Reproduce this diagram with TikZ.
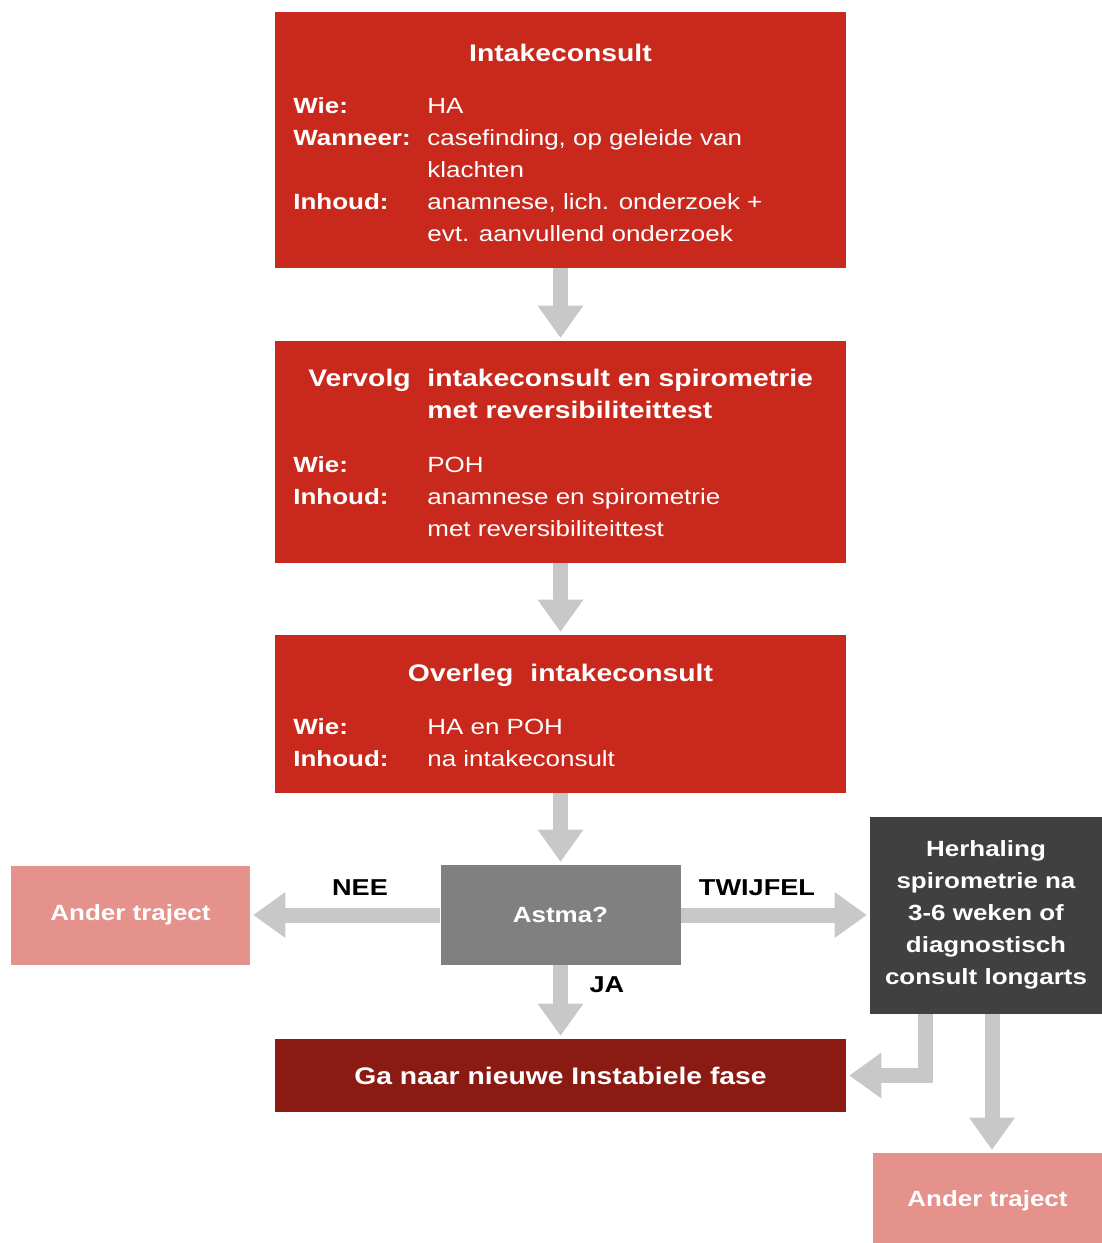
\documentclass[tikz,border=0pt]{standalone}
\usepackage{fontspec}
\setmainfont{Liberation Sans}[FakeStretch=1.18]
\usetikzlibrary{arrows.meta}
\definecolor{rood}{RGB}{201,41,29}
\definecolor{donkerrood}{RGB}{139,27,18}
\definecolor{roze}{RGB}{228,146,139}
\definecolor{grijs}{RGB}{128,128,128}
\definecolor{donkergrijs}{RGB}{64,64,64}
\definecolor{pijlgrijs}{RGB}{200,200,200}

\begin{document}
\begin{tikzpicture}[x=0.5pt, y=-0.5pt,
				    blok/.style={rectangle, draw=none, inner sep=0pt, text=white,
				    			 align=center, font=\bfseries\fontsize{11}{16}\selectfont},
				    fase/.style={blok, fill=rood, minimum width=285.5pt},
				    kop/.style={inner sep=0pt, text=white, font=\bfseries\fontsize{12}{16}\selectfont},
				    info/.style={inner sep=0pt, text=white, anchor=base west, font=\fontsize{11}{16}\selectfont},
				    keuze/.style={inner sep=0pt, text=black, font=\bfseries\fontsize{11.5}{16}\selectfont},
				    pijl/.style={color=pijlgrijs, line width=7.5pt, shorten >=1.5pt,
				    			 -{Triangle[width=23pt,length=16pt,line width=0pt]}}]
	\useasboundingbox (0,0) rectangle (1102,1243);

	\node[fase, minimum height=128pt] (intake) at (560.5, 140) {};
	\node[kop, anchor=base] (intakekop) at (560.5, 61) {Intakeconsult};
	\node[info] (intakeinfo) at (293, 113) {\begin{tabular}[t]{@{}p{67pt}@{}l@{}}
		\textbf{Wie:} & HA\\
		\textbf{Wanneer:} & casefinding, op geleide van\\
		 & klachten\\
		\textbf{Inhoud:} & anamnese, lich. onderzoek +\\
		 & evt. aanvullend onderzoek
	\end{tabular}};

	\node[fase, minimum height=111pt] (vervolg) at (560.5, 452) {};
	\node[kop, anchor=base west] (vervolgkop) at (293, 386) {\begin{tabular}[t]{@{}p{67pt}@{}l@{}}
		\hspace{7.5pt}Vervolg & intakeconsult en spirometrie\\
		 & met reversibiliteittest
	\end{tabular}};
	\node[info] (vervolginfo) at (293, 472) {\begin{tabular}[t]{@{}p{67pt}@{}l@{}}
		\textbf{Wie:} & POH\\
		\textbf{Inhoud:} & anamnese en spirometrie\\
		 & met reversibiliteittest
	\end{tabular}};

	\node[fase, minimum height=79pt] (overleg) at (560.5, 714) {};
	\node[kop, anchor=base] (overlegkop) at (560.5, 681) {Overleg\hspace{8.5pt}intakeconsult};
	\node[info] (overleginfo) at (293, 734) {\begin{tabular}[t]{@{}p{67pt}@{}l@{}}
		\textbf{Wie:} & HA en POH\\
		\textbf{Inhoud:} & na intakeconsult
	\end{tabular}};

	\node[blok, fill=grijs, minimum width=120pt, minimum height=50pt] (astma) at (560.5, 915) {Astma?};
	\node[blok, fill=roze, minimum width=119.5pt, minimum height=49.5pt] (anderlinks) at (130.5, 915) {Ander traject};
	\node[blok, fill=donkergrijs, minimum width=116pt, minimum height=98.5pt] (herhaling) at (986, 915)
		{Herhaling\\spirometrie na\\3-6 weken of\\diagnostisch\\consult longarts};
	\node[blok, fill=donkerrood, minimum width=285.5pt, minimum height=36.5pt,
		  font=\bfseries\fontsize{12}{16}\selectfont] (ga) at (560.5, 1075.5) {Ga naar nieuwe Instabiele fase};
	\node[blok, fill=roze, minimum width=114.5pt, minimum height=48pt] (anderrechts) at (987.5, 1201) {Ander traject};

	\node[keuze] (nee) at (360, 888) {NEE};
	\node[keuze] (twijfel) at (757, 888) {TWIJFEL};
	\node[keuze] (ja) at (607, 985) {JA};

	\path[pijl] 	(intake)  edge   (vervolg);
	\path[pijl] 	(vervolg)  edge   (overleg);
	\path[pijl] 	(overleg)  edge   (astma);
	\path[pijl] 	(astma)  edge   (anderlinks);
	\path[pijl] 	(astma)  edge   (herhaling);
	\path[pijl] 	(astma)  edge   (ga);
	\draw[pijl] 	([xshift=-30.5pt]herhaling.south)  |-   (ga.east);
	\path[pijl] 	([xshift=3pt]herhaling.south)  edge   ([xshift=3pt]herhaling.south |- anderrechts.north);

\end{tikzpicture}
\end{document}
